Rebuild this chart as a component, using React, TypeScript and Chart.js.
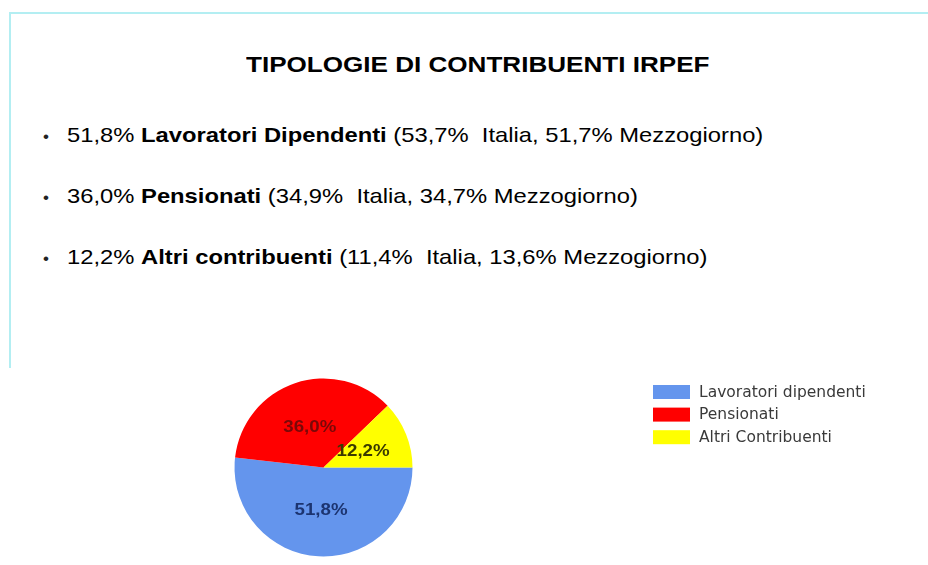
import React, { useEffect, useRef } from "react";
import { Chart, registerables } from "chart.js";

Chart.register(...registerables);

// ---- data ----
const categories = ["Lavoratori dipendenti", "Pensionati", "Altri Contribuenti"];
const bulletNames = ["Lavoratori Dipendenti", "Pensionati", "Altri contribuenti"];
const shares = [51.8, 36.0, 12.2];
const italiaShares = [53.7, 34.9, 11.4];
const mezzogiornoShares = [51.7, 34.7, 13.6];
const titleText = "TIPOLOGIE DI CONTRIBUENTI IRPEF";

// ---- styles ----
const sliceColors = ["#6495ED", "#FF0000", "#FFFF00"];
const labelColors = ["#1c3470", "#7a0808", "#3a3a00"];
const FONT = '"Liberation Sans", Arial, Helvetica, sans-serif';

const fmt = (v: number) => v.toFixed(1).replace(".", ",") + "%";

const CANVAS_TOP = 360;
const CANVAS_H = 205;
const CANVAS_W = 928;

const pieLabelPlugin = {
  id: "pieLabels",
  afterDatasetsDraw(chart: any) {
    const ctx = chart.ctx;
    const meta = chart.getDatasetMeta(0);
    const values = chart.data.datasets[0].data as number[];
    ctx.save();
    ctx.font = `bold 17px ${FONT}`;
    ctx.textAlign = "center";
    ctx.textBaseline = "middle";
    meta.data.forEach((arc: any, i: number) => {
      const p = arc.getProps(["x", "y", "startAngle", "endAngle", "outerRadius"], true);
      const mid = (p.startAngle + p.endAngle) / 2;
      const r = p.outerRadius * 0.48;
      const x = p.x + Math.cos(mid) * r;
      const y = p.y + Math.sin(mid) * r;
      ctx.fillStyle = labelColors[i];
      ctx.save();
      ctx.translate(x, y);
      ctx.scale(1.1, 1);
      ctx.fillText(fmt(values[i]), 0, 0);
      ctx.restore();
    });
    ctx.restore();
  },
};

const legendPlugin = {
  id: "sideLegend",
  afterDraw(chart: any) {
    const ctx = chart.ctx;
    const labels = chart.data.labels as string[];
    const colors = chart.data.datasets[0].backgroundColor as string[];
    const boxX = 653;
    const boxW = 37;
    const boxH = 14;
    const startY = 385 - CANVAS_TOP;
    const rowH = 22.6;
    ctx.save();
    ctx.font = `15.5px "DejaVu Sans", Verdana, sans-serif`;
    ctx.textAlign = "left";
    ctx.textBaseline = "middle";
    labels.forEach((lab, i) => {
      const y = startY + i * rowH;
      ctx.fillStyle = colors[i];
      ctx.fillRect(boxX, y, boxW, boxH);
      ctx.fillStyle = "#3a3a3a";
      ctx.fillText(lab, 699, y + boxH / 2 + 0.5);
    });
    ctx.restore();
  },
};

function PieChart() {
  const ref = useRef<HTMLCanvasElement | null>(null);
  useEffect(() => {
    if (!ref.current) return;
    const cx = 323.5;
    const cy = 467.5 - CANVAS_TOP;
    const r = 89;
    const chart = new Chart(ref.current, {
      type: "pie",
      data: {
        labels: categories,
        datasets: [
          {
            data: shares,
            backgroundColor: sliceColors,
            borderWidth: 0,
          },
        ],
      },
      options: {
        animation: false,
        responsive: false,
        devicePixelRatio: 1,
        rotation: 90,
        layout: {
          padding: {
            left: cx - r,
            right: CANVAS_W - (cx + r),
            top: cy - r,
            bottom: CANVAS_H - (cy + r),
          },
        },
        plugins: {
          legend: { display: false },
          tooltip: { enabled: false },
        },
      },
      plugins: [pieLabelPlugin, legendPlugin],
    });
    return () => chart.destroy();
  }, []);
  return (
    <canvas
      ref={ref}
      width={CANVAS_W}
      height={CANVAS_H}
      style={{ position: "absolute", left: 0, top: CANVAS_TOP, width: CANVAS_W, height: CANVAS_H, display: "block" }}
    />
  );
}

const BULLET_FS = 21;
const BULLET_SCALE = 1.132;
const bulletBaselines = [142, 203, 264];

export default function App() {
  return (
    <div
      style={{
        position: "fixed",
        left: 0,
        top: 0,
        width: 928,
        height: 565,
        background: "#ffffff",
        overflow: "hidden",
        fontFamily: FONT,
      }}
    >
      {/* frame lines */}
      <div style={{ position: "absolute", left: 9, top: 12, width: 919, height: 2, background: "#b3eef2" }} />
      <div style={{ position: "absolute", left: 9, top: 12, width: 2, height: 356, background: "#b3eef2" }} />

      {/* title */}
      <div
        style={{
          position: "absolute",
          left: 246,
          top: 72.5 - 0.8465 * 22,
          fontSize: 22,
          lineHeight: "22px",
          fontWeight: "bold",
          color: "#000",
          whiteSpace: "pre",
          transform: "scaleX(1.185)",
          transformOrigin: "0 0",
        }}
      >
        {titleText}
      </div>

      {/* bullets */}
      {shares.map((s, i) => (
        <React.Fragment key={i}>
          <div
            style={{
              position: "absolute",
              left: 43,
              top: bulletBaselines[i] - 0.8465 * 17,
              fontSize: 17,
              lineHeight: "17px",
              color: "#222",
            }}
          >
            •
          </div>
          <div
            style={{
              position: "absolute",
              left: 67,
              top: bulletBaselines[i] - 0.8465 * BULLET_FS,
              fontSize: BULLET_FS,
              lineHeight: `${BULLET_FS}px`,
              color: "#000",
              whiteSpace: "pre",
              transform: `scaleX(${BULLET_SCALE})`,
              transformOrigin: "0 0",
            }}
          >
            {fmt(s) + " "}
            <b>{bulletNames[i]}</b>
            {` (${fmt(italiaShares[i])}  Italia, ${fmt(mezzogiornoShares[i])} Mezzogiorno)`}
          </div>
        </React.Fragment>
      ))}

      <PieChart />
    </div>
  );
}
